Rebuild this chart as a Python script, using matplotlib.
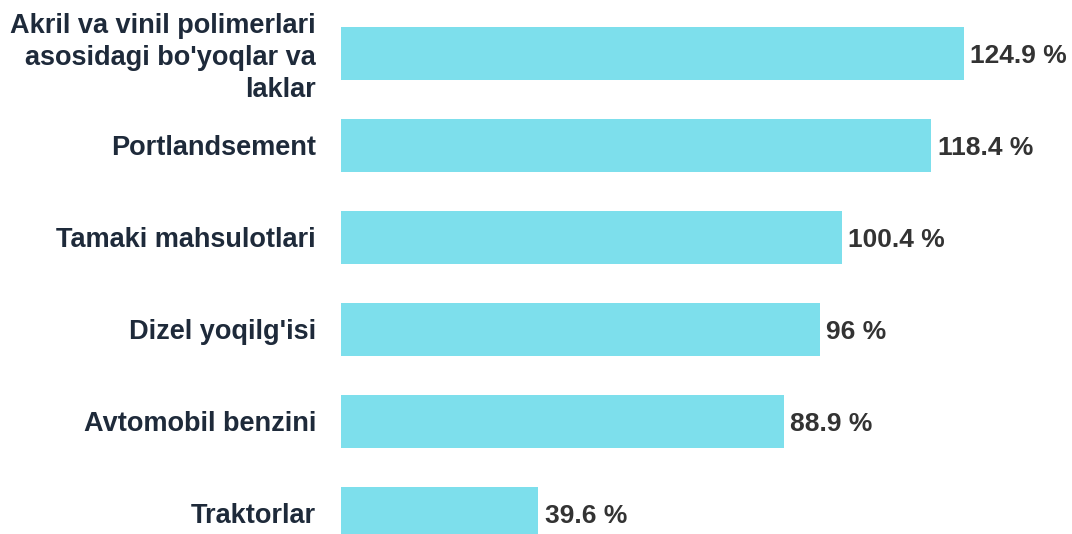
import matplotlib.pyplot as plt

categories = [
    "Akril va vinil polimerlari\nasosidagi bo'yoqlar va\nlaklar",
    "Portlandsement",
    "Tamaki mahsulotlari",
    "Dizel yoqilg'isi",
    "Avtomobil benzini",
    "Traktorlar",
]
values = [124.9, 118.4, 100.4, 96, 88.9, 39.6]
value_labels = ["124.9 %", "118.4 %", "100.4 %", "96 %", "88.9 %", "39.6 %"]

plt.rcParams["font.family"] = ["Liberation Sans", "DejaVu Sans"]

fig = plt.figure(figsize=(10.72, 5.34), dpi=100)
ax = fig.add_axes([341 / 1072, 0, 698 / 1072, 1])

pos = list(range(len(categories)))
ax.barh(pos, values, height=0.576, color="#7ddfec")

for p, v, lab in zip(pos, values, value_labels):
    ax.annotate(lab, (v, p), xytext=(4.5, -1.5), textcoords="offset points",
                ha="left", va="center", fontsize=19, fontweight="bold",
                color="#333333")

# category labels, right aligned left of the bars
for p, cat in zip(pos, categories):
    dy = -3.5 if "\n" in cat else -1.5
    ax.annotate(cat, (0, p), xytext=(-18, dy), textcoords="offset points",
                ha="right", va="center", multialignment="right",
                fontsize=19.5, fontweight="bold", color="#1e2a3a",
                linespacing=1.3, annotation_clip=False)

ax.set_yticks([])
ax.set_xticks([])
ax.set_xlim(0, 140)
ax.set_ylim(5.223, -0.5815)
for s in ax.spines.values():
    s.set_visible(False)

fig.savefig("out.png", dpi=100)
plt.close(fig)
